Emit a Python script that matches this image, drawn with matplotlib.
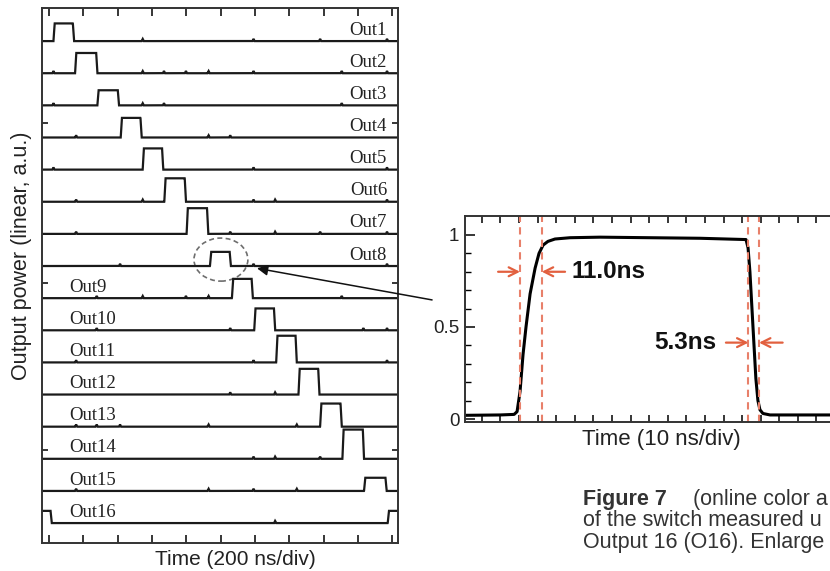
"""
Two-panel switching trace figure: 16 stacked output traces (left) and
an enlarged single pulse with rise/fall time markers (right).
"""
import matplotlib.pyplot as plt
import numpy as np
from matplotlib.patches import Ellipse

plt.rcParams["font.family"] = ["Liberation Sans", "DejaVu Sans"]

# ---- left panel: stacked outputs, x in divisions (200 ns/div) ----
out_labels = [f"Out{i}" for i in range(1, 17)]
pulse_on = [0.13, 0.76, 1.41, 2.09, 2.73, 3.36, 4.01, 4.69,
            5.33, 5.98, 6.62, 7.27, 7.90, 8.55, 9.18, 9.87]
pulse_off = [0.73, 1.41, 2.04, 2.70, 3.33, 3.99, 4.64, 5.30,
             5.94, 6.59, 7.22, 7.88, 8.53, 9.18, 9.84, 10.48]
pulse_height = [0.55, 0.63, 0.47, 0.61, 0.66, 0.73, 0.80, 0.44,
                0.60, 0.68, 0.83, 0.80, 0.72, 0.91, 0.41, 0.38]
# small crosstalk blips on each baseline
blips = [
    [2.73, 5.96, 7.90, 9.85],
    [0.13, 2.73, 3.35, 3.99, 4.65, 5.96, 8.53, 9.85],
    [0.13, 2.73, 3.35, 8.53],
    [0.79, 4.65, 5.28],
    [0.13, 5.96, 9.85],
    [0.79, 2.73, 5.96, 6.59, 9.85],
    [0.79, 5.28, 6.59, 7.90, 9.85],
    [2.07, 5.96, 9.85],
    [1.39, 2.73, 3.99, 4.65, 8.53],
    [1.39, 5.28, 9.16, 9.85],
    [0.79, 5.96, 9.85],
    [5.28, 6.59],
    [0.79, 1.39, 2.07, 4.65, 7.22],
    [5.96, 6.59, 7.90],
    [0.79, 4.65, 5.96, 7.22],
    [6.59],
]
frame_period = 10.4          # one full switching cycle, in divisions
left_yticks = [2.27, 7.47, 12.45]

# ---- right panel: enlarged pulse, x in ns ----
pulse_t = [-9, 10, 17.4, 19.0, 20.6, 22.2, 23.8, 26.0, 28.7, 30.8, 33.0,
           35.6, 39.4, 47.5, 63.6, 90.5, 117.4, 142.1, 143.2, 144.2, 145.3,
           146.4, 147.4, 148.5, 149.6, 151.2, 155.0, 230]
pulse_p = [0.020, 0.022, 0.025, 0.04, 0.15, 0.35, 0.50, 0.68, 0.82, 0.90,
           0.945, 0.965, 0.978, 0.985, 0.988, 0.985, 0.982, 0.975, 0.93,
           0.80, 0.60, 0.40, 0.22, 0.10, 0.05, 0.03, 0.022, 0.022]
edge_marks = [20.6, 32.3, 143.4, 149.1]
rise_label, fall_label = "11.0ns", "5.3ns"

W, H = 830, 571
RED = "#e2603f"
INK = "#222222"


def px_box(left, top, right, bottom):
    return [left / W, 1 - bottom / H, (right - left) / W, (bottom - top) / H]


fig = plt.figure(figsize=(W / 100, H / 100), dpi=100)

# ------------------------------------------------------------ left panel
ax1 = fig.add_axes(px_box(42, 8, 398, 543))
xlo, xhi = -0.204, 10.17
x = np.linspace(xlo - 0.1, xhi + 0.1, 4000)
edge = 0.035
for i, (on, off, h, bl) in enumerate(zip(pulse_on, pulse_off, pulse_height, blips)):
    y = np.zeros_like(x)
    spans = [(on, off)]
    if off > xhi:
        spans.append((on - frame_period, off - frame_period))
    for a, b in spans:
        y = np.maximum(y, h * np.clip(np.minimum((x - a) / edge, (b - x) / edge), 0, 1))
    for s in bl:
        y = np.maximum(y, 0.07 * np.clip(1 - np.abs(x - s) / 0.03, 0, None))
    base = 15 - i
    ax1.plot(x, y + base, color="#1a1a1a", lw=1.6, solid_joinstyle="miter")
    if i < 8:
        ax1.text(9.85, base + 0.34, out_labels[i], ha="right", va="center",
                 family="Liberation Serif", fontsize=13.5, color=INK)
    else:
        ax1.text(0.58, base + 0.34, out_labels[i], ha="left", va="center",
                 family="Liberation Serif", fontsize=13.5, color=INK)

ax1.set_xlim(xlo, xhi)
ax1.set_ylim(-0.62, 16.03)
ax1.set_xticks(np.arange(0, 11))
ax1.set_yticks(left_yticks)
ax1.tick_params(axis="x", direction="in", top=True, bottom=True, length=6,
                width=1.1, labelbottom=False)
ax1.tick_params(axis="y", direction="in", left=True, right=True, length=4,
                width=1.1, labelleft=False)
for sp in ax1.spines.values():
    sp.set_linewidth(1.4)
    sp.set_color("#333333")

ax1.add_patch(Ellipse((5.01, 8.2), 1.57, 1.34, fill=False, ls=(0, (3, 2)),
                      lw=1.2, ec="#6e6e6e"))

# ------------------------------------------------------------ right panel
ax2 = fig.add_axes(px_box(465, 216, 900, 422))
ax2.plot(pulse_t, pulse_p, color="black", lw=2.2)
for t in edge_marks:
    ax2.axvline(t, color="#e8806a", lw=1.5, ls=(0, (3.5, 2.5)))

arrow_kw = dict(arrowstyle="->", color=RED, lw=1.6, mutation_scale=16,
                shrinkA=0, shrinkB=0)
ax2.annotate("", xy=(edge_marks[0], 0.80), xytext=(8.8, 0.80), arrowprops=arrow_kw,
             annotation_clip=False)
ax2.annotate("", xy=(edge_marks[1], 0.80), xytext=(44.8, 0.80), arrowprops=arrow_kw)
ax2.text(48.4, 0.80, rise_label, ha="left", va="center", fontsize=17.5,
         fontweight="bold", color="#111111")
ax2.annotate("", xy=(edge_marks[2], 0.415), xytext=(131.3, 0.415), arrowprops=arrow_kw)
ax2.annotate("", xy=(edge_marks[3], 0.415), xytext=(161.8, 0.415), arrowprops=arrow_kw)
ax2.text(126.0, 0.415, fall_label, ha="right", va="center", fontsize=17.5,
         fontweight="bold", color="#111111")

ax2.set_xlim(-9.0, 224.9)
ax2.set_ylim(-0.0163, 1.103)
ax2.set_xticks(np.arange(0, 230, 10))
ax2.set_yticks([0, 0.5, 1])
ax2.set_yticklabels(["0", "0.5", "1"])
ax2.set_yticks(np.arange(0.1, 1.01, 0.1), minor=True)
ax2.tick_params(axis="x", direction="in", top=True, bottom=True, length=5,
                width=1.1, labelbottom=False)
ax2.tick_params(axis="y", which="major", direction="in", length=7, width=1.1,
                labelsize=13.5, pad=4, labelcolor=INK)
ax2.tick_params(axis="y", which="minor", direction="in", length=4, width=1.0)
for sp in ax2.spines.values():
    sp.set_linewidth(1.4)
    sp.set_color("#333333")

# arrow linking the circled pulse to the enlarged view
ax1.annotate("", xy=(6.06, 7.93), xycoords=ax1.transData,
             xytext=(-26.7, 0.647), textcoords=ax2.transData,
             arrowprops=dict(arrowstyle="-|>", color="#111111", lw=1.1,
                             mutation_scale=16, shrinkA=0, shrinkB=0),
             annotation_clip=False)

# ------------------------------------------------------------ labels, caption
fig.text(21.7 / W, 1 - 256 / H, "Output power (linear, a.u.)", rotation=90,
         ha="center", va="center", fontsize=15.5, color=INK)
fig.text(235 / W, 1 - 565 / H, "Time (200 ns/div)", ha="center", va="baseline",
         fontsize=15, color=INK)
fig.text(661 / W, 1 - 445 / H, "Time (10 ns/div)", ha="center", va="baseline",
         fontsize=16, color=INK)

fig.text(583 / W, 1 - 505 / H, "Figure 7", ha="left", va="baseline",
         fontsize=15.5, fontweight="bold", color="#333333")
fig.text(693 / W, 1 - 505 / H, "(online color a", ha="left", va="baseline",
         fontsize=15.5, color="#333333")
fig.text(583 / W, 1 - 526.5 / H, "of the switch measured u", ha="left",
         va="baseline", fontsize=15.5, color="#333333")
fig.text(583 / W, 1 - 548 / H, "Output 16 (O16). Enlarge", ha="left",
         va="baseline", fontsize=15.5, color="#333333")

fig.savefig("out.png", dpi=100)
